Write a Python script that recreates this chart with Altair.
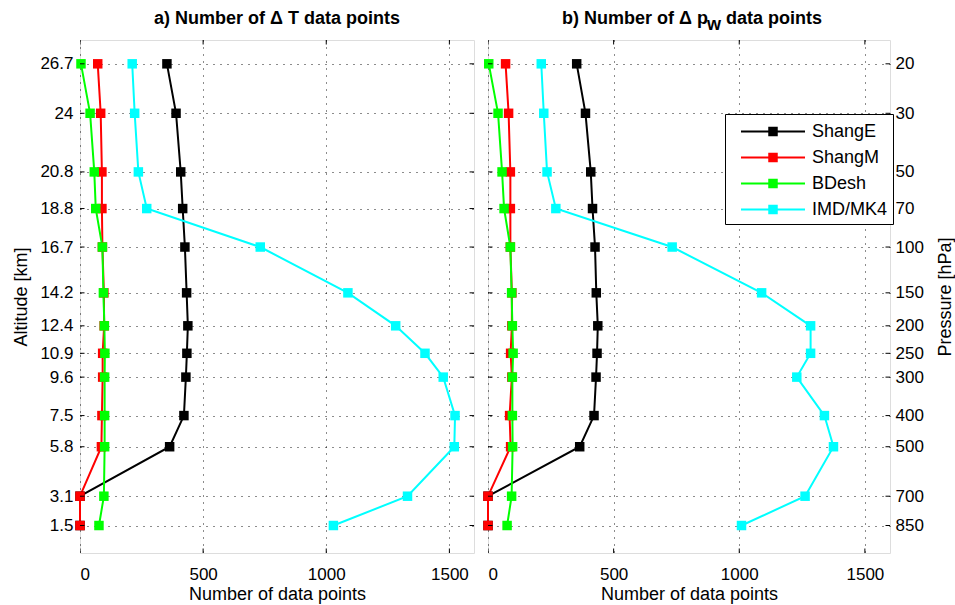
import altair as alt
import pandas as pd

# ---------------- data ----------------
altitudes = [26.7, 24, 20.8, 18.8, 16.7, 14.2, 12.4, 10.9, 9.6, 7.5, 5.8, 3.1, 1.5]
pressures = [20, 30, 50, 70, 100, 150, 200, 250, 300, 400, 500, 700, 850]
series_names = ["ShangE", "ShangM", "BDesh", "IMD/MK4"]
series_colors = ["#000000", "#ff0000", "#00ff00", "#00ffff"]
x_ticks = [0, 500, 1000, 1500]

# panel a: number of Delta T data points
dT_shangE = [353, 390, 409, 417, 426, 433, 438, 434, 430, 422, 364, 0, 0]
dT_shangM = [72, 84, 89, 89, 91, 97, 98, 92, 92, 89, 87, 0, 0]
dT_bdesh = [4, 41, 58, 64, 91, 95, 99, 101, 100, 100, 100, 97, 77]
dT_imd = [212, 222, 237, 271, 732, 1088, 1282, 1401, 1475, 1523, 1520, 1330, 1029]

# panel b: number of Delta p_w data points
dpw_shangE = [353, 388, 409, 416, 426, 431, 437, 434, 430, 422, 365, 0, 0]
dpw_shangM = [70, 82, 89, 89, 89, 95, 95, 90, 95, 86, 90, 0, 0]
dpw_bdesh = [3, 40, 56, 64, 89, 94, 97, 100, 97, 97, 98, 94, 76]
dpw_imd = [212, 222, 235, 270, 733, 1089, 1284, 1284, 1229, 1339, 1375, 1262, 1009]

title_a = "a) Number of \u0394 T data points"
title_b_main = "b) Number of \u0394 p"
title_b_sub = "w"
title_b_rest = "data points"
x_title = "Number of data points"
y_title_left = "Altitude [km]"
y_title_right = "Pressure [hPa]"

# ---------------- style ----------------
FONT = "Liberation Sans"
W_A, W_B, H = 394, 402, 513
TICK_FS = 17
TITLE_FS = 18


def frame(series_values):
    rows = []
    for name, vals in zip(series_names, series_values):
        for a, v in zip(altitudes, vals):
            rows.append({"series": name, "alt": a, "n": v})
    return pd.DataFrame(rows)


df_a = frame([dT_shangE, dT_shangM, dT_bdesh, dT_imd])
df_b = frame([dpw_shangE, dpw_shangM, dpw_bdesh, dpw_imd])
ytick_df = pd.DataFrame({"alt": altitudes})
xtick_df = pd.DataFrame({"n": x_ticks})

grid_style = dict(grid=True, gridColor="black", gridDash=[1, 6], gridOpacity=0.9,
                  gridWidth=1, ticks=False, tickSize=0, domain=False,
                  labelFont=FONT, labelFontSize=TICK_FS, labelColor="black",
                  titleFont=FONT, titleFontSize=TITLE_FS, titleFontWeight="normal",
                  titleColor="black")

x_axis = alt.Axis(values=x_ticks, title=x_title, labelExpr="'' + datum.value",
                  labelPadding=13, titlePadding=3, **grid_style)

pressure_expr = "[" + ",".join(str(p) for p in pressures) + "][indexof([" + \
    ",".join(repr(a) for a in altitudes) + "], datum.value)]"

y_axis_a = alt.Axis(orient="left", values=altitudes, labelExpr="'' + datum.value",
                    title=y_title_left, labelPadding=7, titlePadding=9, **grid_style)
y_axis_b = alt.Axis(orient="right", values=altitudes, labelExpr=pressure_expr,
                    title=y_title_right, titleAngle=270, titleBaseline="top",
                    labelPadding=5, titlePadding=13, **grid_style)

LEGEND_PATH = ("M-2.56,-0.08H2.56V0.08H-2.56Z "
               "M-0.38,-0.38H0.38V0.38H-0.38Z")

color_scale = alt.Scale(domain=series_names, range=series_colors)


def panel(df, width, y_axis, legend, title_layers):
    xdef = alt.X("n:Q", scale=alt.Scale(domain=[0, 1600], nice=False, zero=False),
                 axis=x_axis)
    ydef = alt.Y("alt:Q", scale=alt.Scale(domain=[0, 28], nice=False, zero=False),
                 axis=y_axis)
    base = alt.Chart(df)
    lines = [
        base.transform_filter(alt.datum.series == name)
        .mark_line(strokeWidth=2, color=col)
        .encode(x=xdef, y=ydef, order=alt.Order("alt:Q"))
        for name, col in zip(series_names, series_colors)
    ]
    pts = base.mark_square(size=90, opacity=1, filled=True).encode(
        x=xdef, y=ydef,
        color=alt.Color("series:N", scale=color_scale, legend=legend),
    )
    tick_kw = dict(color="black", thickness=1, size=9, opacity=1, clip=True)
    yt = alt.Chart(ytick_df)
    xt = alt.Chart(xtick_df)
    ticks = [
        yt.mark_tick(orient="horizontal", **tick_kw).encode(x=alt.value(0), y=ydef),
        yt.mark_tick(orient="horizontal", **tick_kw).encode(x=alt.value(width), y=ydef),
        xt.mark_tick(orient="vertical", **tick_kw).encode(x=xdef, y=alt.value(0)),
        xt.mark_tick(orient="vertical", **tick_kw).encode(x=xdef, y=alt.value(H)),
    ]
    return alt.layer(*lines, pts, *ticks, *title_layers).properties(width=width, height=H)


def title_text(text, x, y, align, size=TITLE_FS):
    return alt.Chart(pd.DataFrame({"t": [text]})).mark_text(
        font=FONT, fontSize=size, fontWeight="bold", align=align,
        baseline="alphabetic", color="black",
    ).encode(x=alt.value(x), y=alt.value(y), text="t:N")


titles_a = [title_text(title_a, W_A / 2, -16, "center")]
titles_b = [
    title_text(title_b_main, 220, -16, "right"),
    title_text(title_b_sub, 219, -10, "left"),
    title_text(title_b_rest, 238, -16, "left"),
]

legend_b = alt.Legend(
    title=None, orient="none", legendX=237, legendY=74,
    symbolType=LEGEND_PATH, symbolSize=625, symbolStrokeWidth=0,
    symbolOffset=30.5, labelOffset=26.5, symbolOpacity=1,
    labelFont=FONT, labelFontSize=18, labelColor="black",
    strokeColor="black", fillColor="white", padding=5, rowPadding=4,
    cornerRadius=0,
)

chart_a = panel(df_a, W_A, y_axis_a, None, titles_a)
chart_b = panel(df_b, W_B, y_axis_b, legend_b, titles_b)

chart = alt.hconcat(chart_a, chart_b, spacing=7).resolve_scale(
    color="independent"
).resolve_legend(color="independent").properties(
    padding={"left": 12, "top": 9, "right": 0, "bottom": 5}
).configure_view(stroke="black", strokeWidth=1).configure(background="white")

chart.save("out.html", embed_options={"renderer": "svg", "actions": False})
